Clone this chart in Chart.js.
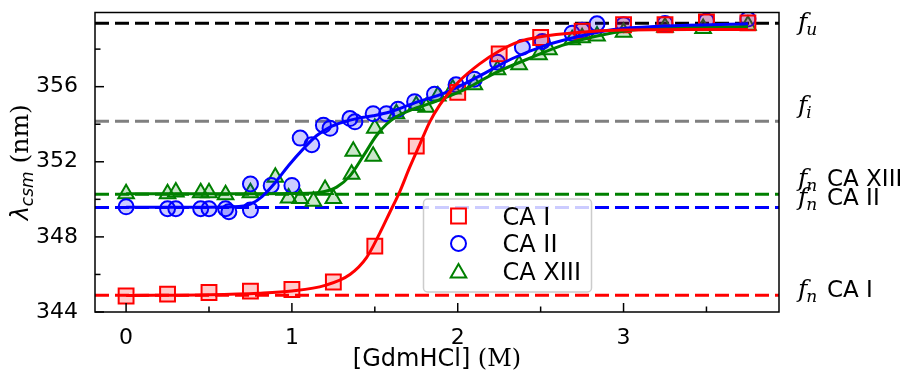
<!DOCTYPE html>
<html>
<head>
<meta charset="utf-8">
<script src="https://cdn.jsdelivr.net/npm/chart.js@4.4.1/dist/chart.umd.min.js"></script>
<style>
  html, body { margin: 0; padding: 0; background: #fff; }
  #wrap { width: 917px; height: 377px; }
</style>
</head>
<body>
<div id="wrap"><canvas id="chart" width="917" height="377"></canvas></div>
<script>
const caIx = [0, 0.25, 0.5, 0.75, 1.0, 1.25, 1.5, 1.75, 2.0, 2.25, 2.5, 2.75, 3.0, 3.25, 3.5, 3.75];
const caIy = [344.85, 344.95, 345.04, 345.11, 345.2, 345.6, 347.51, 352.83, 355.7, 357.75, 358.62, 358.95, 359.3, 359.3, 359.45, 359.4];

const caIIx = [0, 0.25, 0.30, 0.45, 0.5, 0.6, 0.62, 0.75, 0.75, 0.875, 1.0, 1.05, 1.12, 1.19, 1.23, 1.35, 1.38, 1.49,
  1.57, 1.64, 1.74, 1.86, 1.99, 2.1, 2.24, 2.39, 2.51, 2.69, 2.75, 2.84, 3.0, 3.25, 3.5, 3.75];
const caIIy = [349.6, 349.5, 349.5, 349.5, 349.5, 349.5, 349.34, 349.43, 350.82, 350.74, 350.74, 353.26, 352.91, 353.95, 353.78, 354.3, 354.13, 354.56,
  354.56, 354.8, 355.2, 355.6, 356.1, 356.4, 357.3, 358.1, 358.4, 358.85, 359.0, 359.35, 359.3, 359.37, 359.5, 359.6];

const caXIIIx = [0, 0.25, 0.30, 0.45, 0.5, 0.6, 0.75, 0.9, 0.98, 1.05, 1.13, 1.2, 1.25, 1.36, 1.37, 1.49, 1.5,
  1.63, 1.75, 1.81, 1.88, 1.97, 2.1, 2.24, 2.37, 2.49, 2.55, 2.69, 2.75, 2.84, 3.0, 3.25, 3.48, 3.75];
const caXIIIy = [350.3, 350.3, 350.39, 350.35, 350.35, 350.25, 350.35, 351.17, 350.07, 350.04, 349.9, 350.53, 350.04, 351.34, 352.56, 352.3, 353.78,
  354.56, 355.0, 354.9, 355.5, 355.87, 356.1, 356.9, 357.17, 357.7, 357.96, 358.5, 358.6, 358.7, 358.9, 359.17, 359.1, 359.27];

// fitted curves, sampled off the figure
const fitIx = [0, 0.5, 0.8, 1.0, 1.2, 1.35, 1.45, 1.53, 1.59, 1.65, 1.71, 1.77, 1.83, 1.89, 1.95, 2.01, 2.13, 2.25, 2.37, 2.49, 2.74, 3.0, 3.4, 3.75];
const fitIy = [344.88, 344.92, 345.0, 345.12, 345.42, 346.0, 346.9, 348.2, 349.3, 350.4, 351.7, 352.9, 354.1, 355.0, 355.7, 356.3, 357.2, 357.9, 358.4, 358.65, 358.9, 359.02, 359.05, 359.05];

const fitIIx = [0, 0.5, 0.65, 0.75, 0.82, 0.9, 0.98, 1.07, 1.15, 1.23, 1.31, 1.39, 1.49, 1.59, 1.73, 1.93, 2.13, 2.33, 2.53, 2.74, 2.94, 3.24, 3.75];
const fitIIy = [349.58, 349.58, 349.6, 349.75, 350.15, 350.9, 351.8, 352.7, 353.4, 353.85, 354.12, 354.3, 354.45, 354.65, 355.1, 355.7, 356.56, 357.5, 358.2, 358.7, 359.05, 359.23, 359.35];

const fitXIIIx = [0, 0.8, 1.1, 1.19, 1.27, 1.35, 1.43, 1.51, 1.57, 1.63, 1.73, 1.83, 2.03, 2.23, 2.43, 2.63, 2.84, 3.04, 3.34, 3.75];
const fitXIIIy = [350.3, 350.3, 350.32, 350.4, 350.65, 351.25, 352.3, 353.4, 354.0, 354.4, 354.8, 355.1, 355.8, 356.75, 357.5, 358.2, 358.7, 359.0, 359.15, 359.2];

// reference levels (dashed lines)
const levelValues = [359.38, 354.16, 350.27, 349.57, 344.89];
const levelColors = ['#000000', '#808080', '#008000', '#0000ff', '#ff0000'];
const levelSubs = ['u', 'i', 'n', 'n', 'n'];
const levelNames = ['', '', 'CA XIII', 'CA II', 'CA I'];

const seriesNames = ['CA I', 'CA II', 'CA XIII'];
const xMin = -0.1875, xMax = 3.9375;

const pts = (xs, ys) => xs.map((x, i) => ({ x: x, y: ys[i] }));

const fitLine = (xs, ys, color) => ({
  data: pts(xs, ys), showLine: true, borderColor: color, borderWidth: 3,
  pointRadius: 0, fill: false, cubicInterpolationMode: 'monotone'
});
const markers = (xs, ys, color, fillCol, style, r) => ({
  data: pts(xs, ys), showLine: false, pointStyle: style, pointRadius: r,
  borderColor: color, backgroundColor: fillCol, pointBorderWidth: 2, borderWidth: 2
});

const datasets = [
  fitLine(fitIx, fitIy, '#ff0000'),
  fitLine(fitIIx, fitIIy, '#0000ff'),
  fitLine(fitXIIIx, fitXIIIy, '#008000'),
  markers(caIx, caIy, '#ff0000', 'rgba(255,0,0,0.2)', 'rect', 10.5),
  markers(caIIx, caIIy, '#0000ff', 'rgba(0,0,255,0.2)', 'circle', 7.5),
  markers(caXIIIx, caXIIIy, '#008000', 'rgba(0,128,0,0.2)', 'triangle', 9)
];
levelValues.forEach((v, i) => {
  datasets.push({
    data: [{ x: xMin, y: v }, { x: xMax, y: v }], showLine: true,
    borderColor: levelColors[i], borderWidth: 3, borderDash: [14, 6], pointRadius: 0
  });
});

function drawMarker(ctx, style, x, y, r) {
  ctx.beginPath();
  if (style === 'rect') {
    const s = r * Math.SQRT1_2;
    ctx.rect(x - s, y - s, 2 * s, 2 * s);
  } else if (style === 'circle') {
    ctx.arc(x, y, r, 0, Math.PI * 2);
  } else {
    ctx.moveTo(x, y - r);
    ctx.lineTo(x + r * Math.sin(Math.PI * 2 / 3), y + r / 2);
    ctx.lineTo(x - r * Math.sin(Math.PI * 2 / 3), y + r / 2);
    ctx.closePath();
  }
  ctx.stroke();
}

const decorPlugin = {
  id: 'decor',
  afterDraw(chart) {
    const { ctx, chartArea: a, scales: { x, y } } = chart;
    ctx.save();

    // inward ticks + frame
    ctx.strokeStyle = '#000';
    ctx.lineWidth = 1.5;
    x.ticks.forEach(t => {
      const px = x.getPixelForValue(t.value);
      const len = Number.isInteger(t.value) ? 9 : 5.5;
      ctx.beginPath(); ctx.moveTo(px, a.bottom); ctx.lineTo(px, a.bottom - len); ctx.stroke();
    });
    y.ticks.forEach(t => {
      const py = y.getPixelForValue(t.value);
      const len = t.value % 4 === 0 ? 9 : 5.5;
      ctx.beginPath(); ctx.moveTo(a.left, py); ctx.lineTo(a.left + len, py); ctx.stroke();
    });
    ctx.strokeRect(a.left, a.top, a.right - a.left, a.bottom - a.top);

    // legend box
    const lx = a.left + 328.5, ly = a.top + 186.5, lw = 168, lh = 93;
    ctx.beginPath();
    ctx.roundRect(lx, ly, lw, lh, 4);
    ctx.fillStyle = 'rgba(255,255,255,0.8)';
    ctx.fill();
    ctx.strokeStyle = '#cccccc';
    ctx.lineWidth = 1.5;
    ctx.stroke();
    const styles = ['rect', 'circle', 'triangle'];
    const cols = ['#ff0000', '#0000ff', '#008000'];
    const radii = [10.5, 7.5, 9];
    ctx.font = "24px 'DejaVu Sans'";
    ctx.textBaseline = 'alphabetic';
    ctx.textAlign = 'left';
    seriesNames.forEach((name, i) => {
      const cy = ly + 17 + i * 27.5;
      ctx.strokeStyle = cols[i];
      ctx.lineWidth = 2;
      drawMarker(ctx, styles[i], lx + 35, cy + (i === 2 ? 2 : 0), radii[i]);
      ctx.fillStyle = '#000';
      ctx.fillText(name, lx + 79, cy + 8.5);
    });

    // labels to the right of the levels
    const sideBase = [30, 113, 186, 205, 297];
    levelValues.forEach((v, i) => {
      const bx = a.right + 19, by = sideBase[i];
      ctx.fillStyle = '#000';
      ctx.font = "italic 25px 'DejaVu Serif'";
      const fw = ctx.measureText('f').width;
      ctx.fillText('f', bx, by);
      ctx.font = "italic 17px 'DejaVu Serif'";
      ctx.fillText(levelSubs[i], bx + fw - 1, by + 5);
      if (levelNames[i]) {
        ctx.font = "23px 'DejaVu Sans'";
        ctx.fillText(levelNames[i], a.right + 48, by);
      }
    });

    // y axis title
    ctx.save();
    ctx.translate(28, (a.top + a.bottom) / 2);
    ctx.rotate(-Math.PI / 2);
    const parts = [
      { t: 'λ', f: "oblique 24px 'DejaVu Sans'", dy: 0 },
      { t: 'csm', f: "oblique 17px 'DejaVu Sans'", dy: 5 },
      { t: ' (nm)', f: "25px 'DejaVu Serif'", dy: 0 }
    ];
    let total = 0;
    parts.forEach(p => { ctx.font = p.f; p.w = ctx.measureText(p.t).width; total += p.w; });
    let cx = -total / 2;
    parts.forEach(p => { ctx.font = p.f; ctx.fillText(p.t, cx, p.dy); cx += p.w; });
    ctx.restore();

    // x axis title
    const xp = [
      { t: '[GdmHCl]', f: "24px 'DejaVu Sans'" },
      { t: ' (M)', f: "24px 'DejaVu Serif'" }
    ];
    total = 0;
    xp.forEach(p => { ctx.font = p.f; p.w = ctx.measureText(p.t).width; total += p.w; });
    cx = (a.left + a.right) / 2 - total / 2;
    xp.forEach(p => { ctx.font = p.f; ctx.fillText(p.t, cx, 366); cx += p.w; });

    ctx.restore();
  }
};

new Chart(document.getElementById('chart'), {
  type: 'scatter',
  data: { datasets: datasets },
  options: {
    responsive: false,
    animation: false,
    events: [],
    devicePixelRatio: 1,
    layout: { padding: { top: 7, right: 138, left: 0, bottom: 0 } },
    plugins: { legend: { display: false }, tooltip: { enabled: false } },
    scales: {
      x: {
        type: 'linear', min: xMin, max: xMax,
        grid: { display: false }, border: { display: false },
        ticks: {
          stepSize: 0.5, includeBounds: false, autoSkip: false, maxRotation: 0,
          padding: 5, color: '#000', font: { family: 'DejaVu Sans', size: 22 },
          callback: v => Number.isInteger(v) ? String(v) : ''
        },
        afterFit: s => { s.height = 65; s.paddingLeft = 0; s.paddingRight = 0; }
      },
      y: {
        type: 'linear', min: 344, max: 359.95,
        grid: { display: false }, border: { display: false },
        ticks: {
          stepSize: 2, includeBounds: false, autoSkip: false,
          padding: 9, color: '#000', font: { family: 'DejaVu Sans', size: 22 },
          callback: v => v % 4 === 0 ? String(v) : ''
        },
        afterFit: s => { s.width = 95; s.paddingTop = 0; s.paddingBottom = 0; }
      }
    }
  },
  plugins: [decorPlugin]
});
</script>
</body>
</html>
